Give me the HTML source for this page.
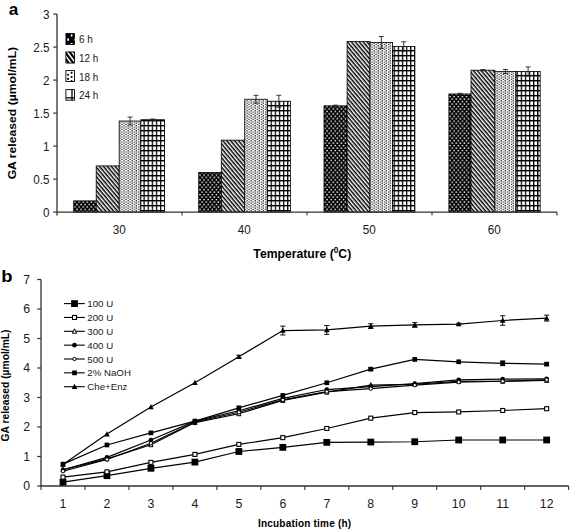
<!DOCTYPE html><html><head><meta charset="utf-8"><style>
html,body{margin:0;padding:0;background:#fff;width:572px;height:530px;overflow:hidden}
svg{display:block}
text{font-family:"Liberation Sans", sans-serif;fill:#1a1a1a}
</style></head><body>
<svg width="572" height="530" viewBox="0 0 572 530">
<defs>
<pattern id="p6" patternUnits="userSpaceOnUse" width="4.1" height="4.9"><rect width="4.1" height="4.9" fill="#000"/><rect x="0.4" y="0.4" width="1.5" height="1.4" fill="#fff"/><rect x="2.45" y="2.85" width="1.5" height="1.4" fill="#fff"/></pattern>
<pattern id="p12" patternUnits="userSpaceOnUse" width="3.0" height="3.0" patternTransform="rotate(50)"><rect width="3.0" height="3.0" fill="#fff"/><rect width="3.0" height="1.5" fill="#000"/></pattern>
<pattern id="p18" patternUnits="userSpaceOnUse" width="4.1" height="2.5"><rect width="4.1" height="2.5" fill="#fff"/><rect x="0.4" y="0.2" width="1.25" height="1.15" fill="#000"/><rect x="2.45" y="1.45" width="1.25" height="1.15" fill="#000"/></pattern>
<pattern id="p24" patternUnits="userSpaceOnUse" width="4.1" height="5.0"><rect width="4.1" height="5.0" fill="#fff"/><rect x="0" y="0" width="1.3" height="5.0" fill="#000"/><rect x="0" y="0" width="4.1" height="1.4" fill="#000"/></pattern>
</defs>
<rect width="572" height="530" fill="#fff"/>
<text x="8.7" y="15" font-size="17" font-weight="bold" style="fill:#000">a</text>
<rect x="73.70" y="200.88" width="22.50" height="11.22" fill="url(#p6)" stroke="#000" stroke-width="0.8"/>
<rect x="96.20" y="165.90" width="23.00" height="46.20" fill="url(#p12)" stroke="#000" stroke-width="0.8"/>
<rect x="119.20" y="121.02" width="21.70" height="91.08" fill="url(#p18)" stroke="#000" stroke-width="0.8"/>
<path d="M130.05,117.06V124.98M127.55,117.06H132.55M127.55,124.98H132.55" stroke="#222" stroke-width="0.9" fill="none"/>
<rect x="140.90" y="119.70" width="23.70" height="92.40" fill="url(#p24)" stroke="#000" stroke-width="0.8"/>
<path d="M152.75,119.04V120.36M150.25,119.04H155.25M150.25,120.36H155.25" stroke="#222" stroke-width="0.9" fill="none"/>
<rect x="198.70" y="172.50" width="22.60" height="39.60" fill="url(#p6)" stroke="#000" stroke-width="0.8"/>
<rect x="221.30" y="140.16" width="23.40" height="71.94" fill="url(#p12)" stroke="#000" stroke-width="0.8"/>
<rect x="244.70" y="99.24" width="22.60" height="112.86" fill="url(#p18)" stroke="#000" stroke-width="0.8"/>
<path d="M256.00,95.28V103.20M253.50,95.28H258.50M253.50,103.20H258.50" stroke="#222" stroke-width="0.9" fill="none"/>
<rect x="267.30" y="101.22" width="23.10" height="110.88" fill="url(#p24)" stroke="#000" stroke-width="0.8"/>
<path d="M278.85,95.28V107.16M276.35,95.28H281.35M276.35,107.16H281.35" stroke="#222" stroke-width="0.9" fill="none"/>
<rect x="324.00" y="105.84" width="23.10" height="106.26" fill="url(#p6)" stroke="#000" stroke-width="0.8"/>
<path d="M335.55,105.18V106.50M333.05,105.18H338.05M333.05,106.50H338.05" stroke="#222" stroke-width="0.9" fill="none"/>
<rect x="347.10" y="41.49" width="22.90" height="170.61" fill="url(#p12)" stroke="#000" stroke-width="0.8"/>
<rect x="370.00" y="42.48" width="22.60" height="169.62" fill="url(#p18)" stroke="#000" stroke-width="0.8"/>
<path d="M381.30,36.54V48.42M378.80,36.54H383.80M378.80,48.42H383.80" stroke="#222" stroke-width="0.9" fill="none"/>
<rect x="392.60" y="46.44" width="22.30" height="165.66" fill="url(#p24)" stroke="#000" stroke-width="0.8"/>
<path d="M403.75,41.82V51.06M401.25,41.82H406.25M401.25,51.06H406.25" stroke="#222" stroke-width="0.9" fill="none"/>
<rect x="448.90" y="93.96" width="22.10" height="118.14" fill="url(#p6)" stroke="#000" stroke-width="0.8"/>
<path d="M459.95,93.30V94.62M457.45,93.30H462.45M457.45,94.62H462.45" stroke="#222" stroke-width="0.9" fill="none"/>
<rect x="471.00" y="70.20" width="23.90" height="141.90" fill="url(#p12)" stroke="#000" stroke-width="0.8"/>
<path d="M482.95,69.54V70.86M480.45,69.54H485.45M480.45,70.86H485.45" stroke="#222" stroke-width="0.9" fill="none"/>
<rect x="494.90" y="71.52" width="21.10" height="140.58" fill="url(#p18)" stroke="#000" stroke-width="0.8"/>
<path d="M505.45,69.54V73.50M502.95,69.54H507.95M502.95,73.50H507.95" stroke="#222" stroke-width="0.9" fill="none"/>
<rect x="516.00" y="71.52" width="24.20" height="140.58" fill="url(#p24)" stroke="#000" stroke-width="0.8"/>
<path d="M528.10,66.90V76.14M525.60,66.90H530.60M525.60,76.14H530.60" stroke="#222" stroke-width="0.9" fill="none"/>
<path d="M57.0,14.10V215.60M57.0,212.1H557.0" stroke="#333" stroke-width="1.3" fill="none"/>
<path d="M53.20,212.10H57.0" stroke="#333" stroke-width="1.2"/>
<text transform="translate(49.5,216.55) scale(0.95,1.1)" font-size="12.3" text-anchor="end">0</text>
<path d="M53.20,179.10H57.0" stroke="#333" stroke-width="1.2"/>
<text transform="translate(49.5,183.55) scale(0.95,1.1)" font-size="12.3" text-anchor="end">0.5</text>
<path d="M53.20,146.10H57.0" stroke="#333" stroke-width="1.2"/>
<text transform="translate(49.5,150.55) scale(0.95,1.1)" font-size="12.3" text-anchor="end">1</text>
<path d="M53.20,113.10H57.0" stroke="#333" stroke-width="1.2"/>
<text transform="translate(49.5,117.55) scale(0.95,1.1)" font-size="12.3" text-anchor="end">1.5</text>
<path d="M53.20,80.10H57.0" stroke="#333" stroke-width="1.2"/>
<text transform="translate(49.5,84.55) scale(0.95,1.1)" font-size="12.3" text-anchor="end">2</text>
<path d="M53.20,47.10H57.0" stroke="#333" stroke-width="1.2"/>
<text transform="translate(49.5,51.55) scale(0.95,1.1)" font-size="12.3" text-anchor="end">2.5</text>
<path d="M53.20,14.10H57.0" stroke="#333" stroke-width="1.2"/>
<text transform="translate(49.5,18.55) scale(0.95,1.1)" font-size="12.3" text-anchor="end">3</text>
<path d="M182.00,212.1V215.60" stroke="#333" stroke-width="1.1"/>
<path d="M307.00,212.1V215.60" stroke="#333" stroke-width="1.1"/>
<path d="M432.00,212.1V215.60" stroke="#333" stroke-width="1.1"/>
<path d="M557.00,212.1V215.60" stroke="#333" stroke-width="1.1"/>
<text transform="translate(119.20,234.3) scale(0.95,1.1)" font-size="12.3" text-anchor="middle">30</text>
<text transform="translate(244.20,234.3) scale(0.95,1.1)" font-size="12.3" text-anchor="middle">40</text>
<text transform="translate(369.20,234.3) scale(0.95,1.1)" font-size="12.3" text-anchor="middle">50</text>
<text transform="translate(494.20,234.3) scale(0.95,1.1)" font-size="12.3" text-anchor="middle">60</text>
<text x="302.3" y="258.2" font-size="12.2" font-weight="bold" text-anchor="middle" style="fill:#000">Temperature (<tspan font-size="8.3" dy="-5.2">0</tspan><tspan dy="5.2">C)</tspan></text>
<text transform="translate(15.7,113.1) rotate(-90) scale(1,0.87)" font-size="12.2" font-weight="bold" text-anchor="middle" style="fill:#000">GA released (µmol/mL)</text>
<rect x="65.5" y="33.1" width="9.4" height="11.8" fill="#000"/>
<rect x="70.9" y="34.3" width="1.5" height="2.4" fill="#fff"/><rect x="67.3" y="38.4" width="1.8" height="2.4" fill="#fff"/><rect x="70.6" y="43.0" width="2.0" height="1.0" fill="#fff"/><rect x="73.9" y="38.8" width="1.0" height="1.8" fill="#999"/>
<clipPath id="cb2"><rect x="65.5" y="51.6" width="9.4" height="11.8"/></clipPath>
<g clip-path="url(#cb2)"><rect x="65.5" y="51.6" width="9.4" height="11.8" fill="#000"/>
<path d="M52.20,51.60 l1.9,0 l9,11.8 l-1.9,0 Z" fill="#fff"/>
<path d="M56.80,51.60 l1.9,0 l9,11.8 l-1.9,0 Z" fill="#fff"/>
<path d="M61.40,51.60 l1.9,0 l9,11.8 l-1.9,0 Z" fill="#fff"/>
<path d="M66.00,51.60 l1.9,0 l9,11.8 l-1.9,0 Z" fill="#fff"/>
<path d="M70.60,51.60 l1.9,0 l9,11.8 l-1.9,0 Z" fill="#fff"/>
<path d="M75.20,51.60 l1.9,0 l9,11.8 l-1.9,0 Z" fill="#fff"/>
<path d="M79.80,51.60 l1.9,0 l9,11.8 l-1.9,0 Z" fill="#fff"/>
</g><rect x="65.9" y="52.0" width="8.6" height="11.0" fill="none" stroke="#000" stroke-width="0.8"/>
<rect x="65.9" y="70.6" width="8.6" height="10.9" fill="#fff" stroke="#000" stroke-width="0.9"/>
<circle cx="71.6" cy="72.8" r="1.05" fill="#000"/>
<circle cx="68.1" cy="74.7" r="1.05" fill="#000"/>
<circle cx="71.6" cy="77.0" r="1.05" fill="#000"/>
<circle cx="68.1" cy="78.9" r="1.05" fill="#000"/>
<circle cx="71.6" cy="81.0" r="1.05" fill="#000"/>
<rect x="65.9" y="89.6" width="8.6" height="10.6" fill="#fff" stroke="#000" stroke-width="0.9"/>
<path d="M72,89.6V100.2M65.9,97.9H74.5" stroke="#000" stroke-width="1.3"/>
<text x="78.9" y="43.20" font-size="10">6 h</text>
<text x="78.9" y="61.87" font-size="10">12 h</text>
<text x="78.9" y="80.54" font-size="10">18 h</text>
<text x="78.9" y="99.21" font-size="10">24 h</text>
<text transform="translate(1.2,281.6) scale(1.06,1)" font-size="17.4" font-weight="bold" style="fill:#000">b</text>
<path d="M41.0,279.50V486.0H568.6" stroke="#333" stroke-width="1.3" fill="none"/>
<path d="M37.20,486.00H41.0" stroke="#333" stroke-width="1.2"/>
<text transform="translate(30.0,490.10) scale(1,1.05)" font-size="12.3" text-anchor="end">0</text>
<path d="M37.20,456.50H41.0" stroke="#333" stroke-width="1.2"/>
<text transform="translate(30.0,460.60) scale(1,1.05)" font-size="12.3" text-anchor="end">1</text>
<path d="M37.20,427.00H41.0" stroke="#333" stroke-width="1.2"/>
<text transform="translate(30.0,431.10) scale(1,1.05)" font-size="12.3" text-anchor="end">2</text>
<path d="M37.20,397.50H41.0" stroke="#333" stroke-width="1.2"/>
<text transform="translate(30.0,401.60) scale(1,1.05)" font-size="12.3" text-anchor="end">3</text>
<path d="M37.20,368.00H41.0" stroke="#333" stroke-width="1.2"/>
<text transform="translate(30.0,372.10) scale(1,1.05)" font-size="12.3" text-anchor="end">4</text>
<path d="M37.20,338.50H41.0" stroke="#333" stroke-width="1.2"/>
<text transform="translate(30.0,342.60) scale(1,1.05)" font-size="12.3" text-anchor="end">5</text>
<path d="M37.20,309.00H41.0" stroke="#333" stroke-width="1.2"/>
<text transform="translate(30.0,313.10) scale(1,1.05)" font-size="12.3" text-anchor="end">6</text>
<path d="M37.20,279.50H41.0" stroke="#333" stroke-width="1.2"/>
<text transform="translate(30.0,283.60) scale(1,1.05)" font-size="12.3" text-anchor="end">7</text>
<path d="M41.00,486.0V490.00" stroke="#333" stroke-width="1.1"/>
<path d="M84.97,486.0V490.00" stroke="#333" stroke-width="1.1"/>
<path d="M128.94,486.0V490.00" stroke="#333" stroke-width="1.1"/>
<path d="M172.91,486.0V490.00" stroke="#333" stroke-width="1.1"/>
<path d="M216.88,486.0V490.00" stroke="#333" stroke-width="1.1"/>
<path d="M260.85,486.0V490.00" stroke="#333" stroke-width="1.1"/>
<path d="M304.82,486.0V490.00" stroke="#333" stroke-width="1.1"/>
<path d="M348.79,486.0V490.00" stroke="#333" stroke-width="1.1"/>
<path d="M392.76,486.0V490.00" stroke="#333" stroke-width="1.1"/>
<path d="M436.73,486.0V490.00" stroke="#333" stroke-width="1.1"/>
<path d="M480.70,486.0V490.00" stroke="#333" stroke-width="1.1"/>
<path d="M524.67,486.0V490.00" stroke="#333" stroke-width="1.1"/>
<path d="M568.64,486.0V490.00" stroke="#333" stroke-width="1.1"/>
<text transform="translate(62.98,508.0) scale(1,1.05)" font-size="12.3" text-anchor="middle">1</text>
<text transform="translate(106.95,508.0) scale(1,1.05)" font-size="12.3" text-anchor="middle">2</text>
<text transform="translate(150.93,508.0) scale(1,1.05)" font-size="12.3" text-anchor="middle">3</text>
<text transform="translate(194.89,508.0) scale(1,1.05)" font-size="12.3" text-anchor="middle">4</text>
<text transform="translate(238.87,508.0) scale(1,1.05)" font-size="12.3" text-anchor="middle">5</text>
<text transform="translate(282.83,508.0) scale(1,1.05)" font-size="12.3" text-anchor="middle">6</text>
<text transform="translate(326.81,508.0) scale(1,1.05)" font-size="12.3" text-anchor="middle">7</text>
<text transform="translate(370.77,508.0) scale(1,1.05)" font-size="12.3" text-anchor="middle">8</text>
<text transform="translate(414.75,508.0) scale(1,1.05)" font-size="12.3" text-anchor="middle">9</text>
<text transform="translate(458.71,508.0) scale(1,1.05)" font-size="12.3" text-anchor="middle">10</text>
<text transform="translate(502.69,508.0) scale(1,1.05)" font-size="12.3" text-anchor="middle">11</text>
<text transform="translate(546.65,508.0) scale(1,1.05)" font-size="12.3" text-anchor="middle">12</text>
<text x="304.65" y="526.6" font-size="10" font-weight="bold" letter-spacing="0.2" text-anchor="middle" style="fill:#000">Incubation time (h)</text>
<text transform="translate(8.9,385.45) rotate(-90)" font-size="10.3" font-weight="bold" text-anchor="middle" style="fill:#000">GA released (µmol/mL)</text>
<polyline points="62.98,482.17 106.95,475.68 150.93,468.30 194.89,462.11 238.87,451.49 282.83,447.36 326.81,442.34 370.77,442.05 414.75,441.75 458.71,439.98 502.69,439.98 546.65,439.98" fill="none" stroke="#000" stroke-width="1.2"/>
<polyline points="62.98,477.15 106.95,471.84 150.93,462.40 194.89,454.44 238.87,444.40 282.83,437.62 326.81,428.48 370.77,418.15 414.75,412.54 458.71,411.96 502.69,410.48 546.65,408.71" fill="none" stroke="#000" stroke-width="1.2"/>
<polyline points="62.98,469.77 106.95,458.86 150.93,444.70 194.89,422.57 238.87,413.73 282.83,400.45 326.81,392.19 370.77,385.11 414.75,384.23 458.71,381.27 502.69,381.27 546.65,380.39" fill="none" stroke="#000" stroke-width="1.2"/>
<polyline points="62.98,469.77 106.95,457.38 150.93,439.98 194.89,421.10 238.87,410.77 282.83,398.38 326.81,389.53 370.77,386.58 414.75,383.63 458.71,379.80 502.69,379.21 546.65,378.92" fill="none" stroke="#000" stroke-width="1.2"/>
<polyline points="62.98,471.25 106.95,459.45 150.93,443.23 194.89,421.99 238.87,412.25 282.83,399.86 326.81,391.60 370.77,388.65 414.75,385.11 458.71,382.16 502.69,381.27 546.65,379.80" fill="none" stroke="#000" stroke-width="1.2"/>
<polyline points="62.98,464.17 106.95,445.00 150.93,432.90 194.89,421.10 238.87,407.82 282.83,395.44 326.81,382.75 370.77,369.18 414.75,359.44 458.71,361.81 502.69,363.28 546.65,364.17" fill="none" stroke="#000" stroke-width="1.2"/>
<polyline points="62.98,464.46 106.95,434.08 150.93,406.94 194.89,382.75 238.87,356.79 282.83,330.54 326.81,329.94 370.77,326.11 414.75,324.93 458.71,324.04 502.69,320.50 546.65,318.14" fill="none" stroke="#000" stroke-width="1.2"/>
<path d="M238.87,355.31V358.26M236.27,355.31H241.47M236.27,358.26H241.47" stroke="#111" stroke-width="1" fill="none"/>
<path d="M282.83,326.11V334.96M280.23,326.11H285.44M280.23,334.96H285.44" stroke="#111" stroke-width="1" fill="none"/>
<path d="M326.81,325.52V334.37M324.20,325.52H329.41M324.20,334.37H329.41" stroke="#111" stroke-width="1" fill="none"/>
<path d="M370.77,323.75V328.47M368.17,323.75H373.38M368.17,328.47H373.38" stroke="#111" stroke-width="1" fill="none"/>
<path d="M414.75,322.57V327.29M412.14,322.57H417.35M412.14,327.29H417.35" stroke="#111" stroke-width="1" fill="none"/>
<path d="M458.71,323.16V324.93M456.11,323.16H461.31M456.11,324.93H461.31" stroke="#111" stroke-width="1" fill="none"/>
<path d="M502.69,315.78V325.23M500.08,315.78H505.29M500.08,325.23H505.29" stroke="#111" stroke-width="1" fill="none"/>
<path d="M546.65,315.19V321.09M544.05,315.19H549.25M544.05,321.09H549.25" stroke="#111" stroke-width="1" fill="none"/>
<path d="M370.77,368.00V370.36M368.17,368.00H373.38M368.17,370.36H373.38" stroke="#111" stroke-width="1" fill="none"/>
<path d="M502.69,360.92V365.64M500.08,360.92H505.29M500.08,365.64H505.29" stroke="#111" stroke-width="1" fill="none"/>
<path d="M546.65,362.99V365.35M544.05,362.99H549.25M544.05,365.35H549.25" stroke="#111" stroke-width="1" fill="none"/>
<rect x="59.59" y="478.77" width="6.8" height="6.8" fill="#000"/>
<rect x="103.55" y="472.28" width="6.8" height="6.8" fill="#000"/>
<rect x="147.53" y="464.90" width="6.8" height="6.8" fill="#000"/>
<rect x="191.49" y="458.71" width="6.8" height="6.8" fill="#000"/>
<rect x="235.47" y="448.09" width="6.8" height="6.8" fill="#000"/>
<rect x="279.44" y="443.96" width="6.8" height="6.8" fill="#000"/>
<rect x="323.41" y="438.94" width="6.8" height="6.8" fill="#000"/>
<rect x="367.38" y="438.65" width="6.8" height="6.8" fill="#000"/>
<rect x="411.35" y="438.35" width="6.8" height="6.8" fill="#000"/>
<rect x="455.31" y="436.58" width="6.8" height="6.8" fill="#000"/>
<rect x="499.29" y="436.58" width="6.8" height="6.8" fill="#000"/>
<rect x="543.25" y="436.58" width="6.8" height="6.8" fill="#000"/>
<rect x="60.98" y="475.15" width="4.0" height="4.0" fill="#fff" stroke="#000" stroke-width="1.1"/>
<rect x="104.95" y="469.84" width="4.0" height="4.0" fill="#fff" stroke="#000" stroke-width="1.1"/>
<rect x="148.93" y="460.40" width="4.0" height="4.0" fill="#fff" stroke="#000" stroke-width="1.1"/>
<rect x="192.89" y="452.44" width="4.0" height="4.0" fill="#fff" stroke="#000" stroke-width="1.1"/>
<rect x="236.87" y="442.40" width="4.0" height="4.0" fill="#fff" stroke="#000" stroke-width="1.1"/>
<rect x="280.83" y="435.62" width="4.0" height="4.0" fill="#fff" stroke="#000" stroke-width="1.1"/>
<rect x="324.81" y="426.48" width="4.0" height="4.0" fill="#fff" stroke="#000" stroke-width="1.1"/>
<rect x="368.77" y="416.15" width="4.0" height="4.0" fill="#fff" stroke="#000" stroke-width="1.1"/>
<rect x="412.75" y="410.54" width="4.0" height="4.0" fill="#fff" stroke="#000" stroke-width="1.1"/>
<rect x="456.71" y="409.96" width="4.0" height="4.0" fill="#fff" stroke="#000" stroke-width="1.1"/>
<rect x="500.69" y="408.48" width="4.0" height="4.0" fill="#fff" stroke="#000" stroke-width="1.1"/>
<rect x="544.65" y="406.71" width="4.0" height="4.0" fill="#fff" stroke="#000" stroke-width="1.1"/>
<path d="M62.98,467.27 L65.08,471.77 L60.88,471.77Z" fill="#fff" stroke="#000" stroke-width="1"/>
<path d="M106.95,456.36 L109.05,460.86 L104.86,460.86Z" fill="#fff" stroke="#000" stroke-width="1"/>
<path d="M150.93,442.20 L153.03,446.70 L148.83,446.70Z" fill="#fff" stroke="#000" stroke-width="1"/>
<path d="M194.89,420.07 L196.99,424.57 L192.79,424.57Z" fill="#fff" stroke="#000" stroke-width="1"/>
<path d="M238.87,411.23 L240.97,415.73 L236.77,415.73Z" fill="#fff" stroke="#000" stroke-width="1"/>
<path d="M282.83,397.95 L284.94,402.45 L280.73,402.45Z" fill="#fff" stroke="#000" stroke-width="1"/>
<path d="M326.81,389.69 L328.91,394.19 L324.70,394.19Z" fill="#fff" stroke="#000" stroke-width="1"/>
<path d="M370.77,382.61 L372.88,387.11 L368.67,387.11Z" fill="#fff" stroke="#000" stroke-width="1"/>
<path d="M414.75,381.73 L416.85,386.23 L412.64,386.23Z" fill="#fff" stroke="#000" stroke-width="1"/>
<path d="M458.71,378.77 L460.81,383.27 L456.61,383.27Z" fill="#fff" stroke="#000" stroke-width="1"/>
<path d="M502.69,378.77 L504.79,383.27 L500.58,383.27Z" fill="#fff" stroke="#000" stroke-width="1"/>
<path d="M546.65,377.89 L548.75,382.39 L544.55,382.39Z" fill="#fff" stroke="#000" stroke-width="1"/>
<circle cx="62.98" cy="469.77" r="2.35" fill="#000"/>
<circle cx="106.95" cy="457.38" r="2.35" fill="#000"/>
<circle cx="150.93" cy="439.98" r="2.35" fill="#000"/>
<circle cx="194.89" cy="421.10" r="2.35" fill="#000"/>
<circle cx="238.87" cy="410.77" r="2.35" fill="#000"/>
<circle cx="282.83" cy="398.38" r="2.35" fill="#000"/>
<circle cx="326.81" cy="389.53" r="2.35" fill="#000"/>
<circle cx="370.77" cy="386.58" r="2.35" fill="#000"/>
<circle cx="414.75" cy="383.63" r="2.35" fill="#000"/>
<circle cx="458.71" cy="379.80" r="2.35" fill="#000"/>
<circle cx="502.69" cy="379.21" r="2.35" fill="#000"/>
<circle cx="546.65" cy="378.92" r="2.35" fill="#000"/>
<circle cx="62.98" cy="471.25" r="1.7" fill="#fff" stroke="#000" stroke-width="1"/>
<circle cx="106.95" cy="459.45" r="1.7" fill="#fff" stroke="#000" stroke-width="1"/>
<circle cx="150.93" cy="443.23" r="1.7" fill="#fff" stroke="#000" stroke-width="1"/>
<circle cx="194.89" cy="421.99" r="1.7" fill="#fff" stroke="#000" stroke-width="1"/>
<circle cx="238.87" cy="412.25" r="1.7" fill="#fff" stroke="#000" stroke-width="1"/>
<circle cx="282.83" cy="399.86" r="1.7" fill="#fff" stroke="#000" stroke-width="1"/>
<circle cx="326.81" cy="391.60" r="1.7" fill="#fff" stroke="#000" stroke-width="1"/>
<circle cx="370.77" cy="388.65" r="1.7" fill="#fff" stroke="#000" stroke-width="1"/>
<circle cx="414.75" cy="385.11" r="1.7" fill="#fff" stroke="#000" stroke-width="1"/>
<circle cx="458.71" cy="382.16" r="1.7" fill="#fff" stroke="#000" stroke-width="1"/>
<circle cx="502.69" cy="381.27" r="1.7" fill="#fff" stroke="#000" stroke-width="1"/>
<circle cx="546.65" cy="379.80" r="1.7" fill="#fff" stroke="#000" stroke-width="1"/>
<rect x="60.63" y="461.82" width="4.7" height="4.7" fill="#000"/>
<rect x="104.61" y="442.64" width="4.7" height="4.7" fill="#000"/>
<rect x="148.58" y="430.55" width="4.7" height="4.7" fill="#000"/>
<rect x="192.54" y="418.75" width="4.7" height="4.7" fill="#000"/>
<rect x="236.52" y="405.47" width="4.7" height="4.7" fill="#000"/>
<rect x="280.48" y="393.08" width="4.7" height="4.7" fill="#000"/>
<rect x="324.45" y="380.40" width="4.7" height="4.7" fill="#000"/>
<rect x="368.42" y="366.83" width="4.7" height="4.7" fill="#000"/>
<rect x="412.39" y="357.09" width="4.7" height="4.7" fill="#000"/>
<rect x="456.36" y="359.45" width="4.7" height="4.7" fill="#000"/>
<rect x="500.33" y="360.93" width="4.7" height="4.7" fill="#000"/>
<rect x="544.30" y="361.81" width="4.7" height="4.7" fill="#000"/>
<path d="M62.98,461.56 L65.78,466.76 L60.19,466.76Z" fill="#000"/>
<path d="M106.95,431.18 L109.75,436.38 L104.16,436.38Z" fill="#000"/>
<path d="M150.93,404.04 L153.73,409.24 L148.12,409.24Z" fill="#000"/>
<path d="M194.89,379.85 L197.69,385.05 L192.09,385.05Z" fill="#000"/>
<path d="M238.87,353.89 L241.67,359.09 L236.06,359.09Z" fill="#000"/>
<path d="M282.83,327.64 L285.63,332.84 L280.03,332.84Z" fill="#000"/>
<path d="M326.81,327.05 L329.61,332.25 L324.00,332.25Z" fill="#000"/>
<path d="M370.77,323.21 L373.57,328.41 L367.97,328.41Z" fill="#000"/>
<path d="M414.75,322.03 L417.55,327.23 L411.94,327.23Z" fill="#000"/>
<path d="M458.71,321.14 L461.51,326.34 L455.91,326.34Z" fill="#000"/>
<path d="M502.69,317.61 L505.49,322.81 L499.88,322.81Z" fill="#000"/>
<path d="M546.65,315.25 L549.45,320.44 L543.86,320.44Z" fill="#000"/>
<path d="M64,303.60H84.8" stroke="#000" stroke-width="1.1"/>
<rect x="71.10" y="300.20" width="6.8" height="6.8" fill="#000"/>
<text x="87.3" y="307.10" font-size="9.7">100 U</text>
<path d="M64,317.45H84.8" stroke="#000" stroke-width="1.1"/>
<rect x="72.50" y="315.45" width="4.0" height="4.0" fill="#fff" stroke="#000" stroke-width="1.1"/>
<text x="87.3" y="320.95" font-size="9.7">200 U</text>
<path d="M64,331.30H84.8" stroke="#000" stroke-width="1.1"/>
<path d="M74.50,328.80 L76.60,333.30 L72.40,333.30Z" fill="#fff" stroke="#000" stroke-width="1"/>
<text x="87.3" y="334.80" font-size="9.7">300 U</text>
<path d="M64,345.15H84.8" stroke="#000" stroke-width="1.1"/>
<circle cx="74.50" cy="345.15" r="2.35" fill="#000"/>
<text x="87.3" y="348.65" font-size="9.7">400 U</text>
<path d="M64,359.00H84.8" stroke="#000" stroke-width="1.1"/>
<circle cx="74.50" cy="359.00" r="1.7" fill="#fff" stroke="#000" stroke-width="1"/>
<text x="87.3" y="362.50" font-size="9.7">500 U</text>
<path d="M64,372.85H84.8" stroke="#000" stroke-width="1.1"/>
<rect x="72.15" y="370.50" width="4.7" height="4.7" fill="#000"/>
<text x="87.3" y="376.35" font-size="9.7">2% NaOH</text>
<path d="M64,386.70H84.8" stroke="#000" stroke-width="1.1"/>
<path d="M74.50,383.80 L77.30,389.00 L71.70,389.00Z" fill="#000"/>
<text x="87.3" y="390.20" font-size="9.7">Che+Enz</text>
</svg></body></html>
